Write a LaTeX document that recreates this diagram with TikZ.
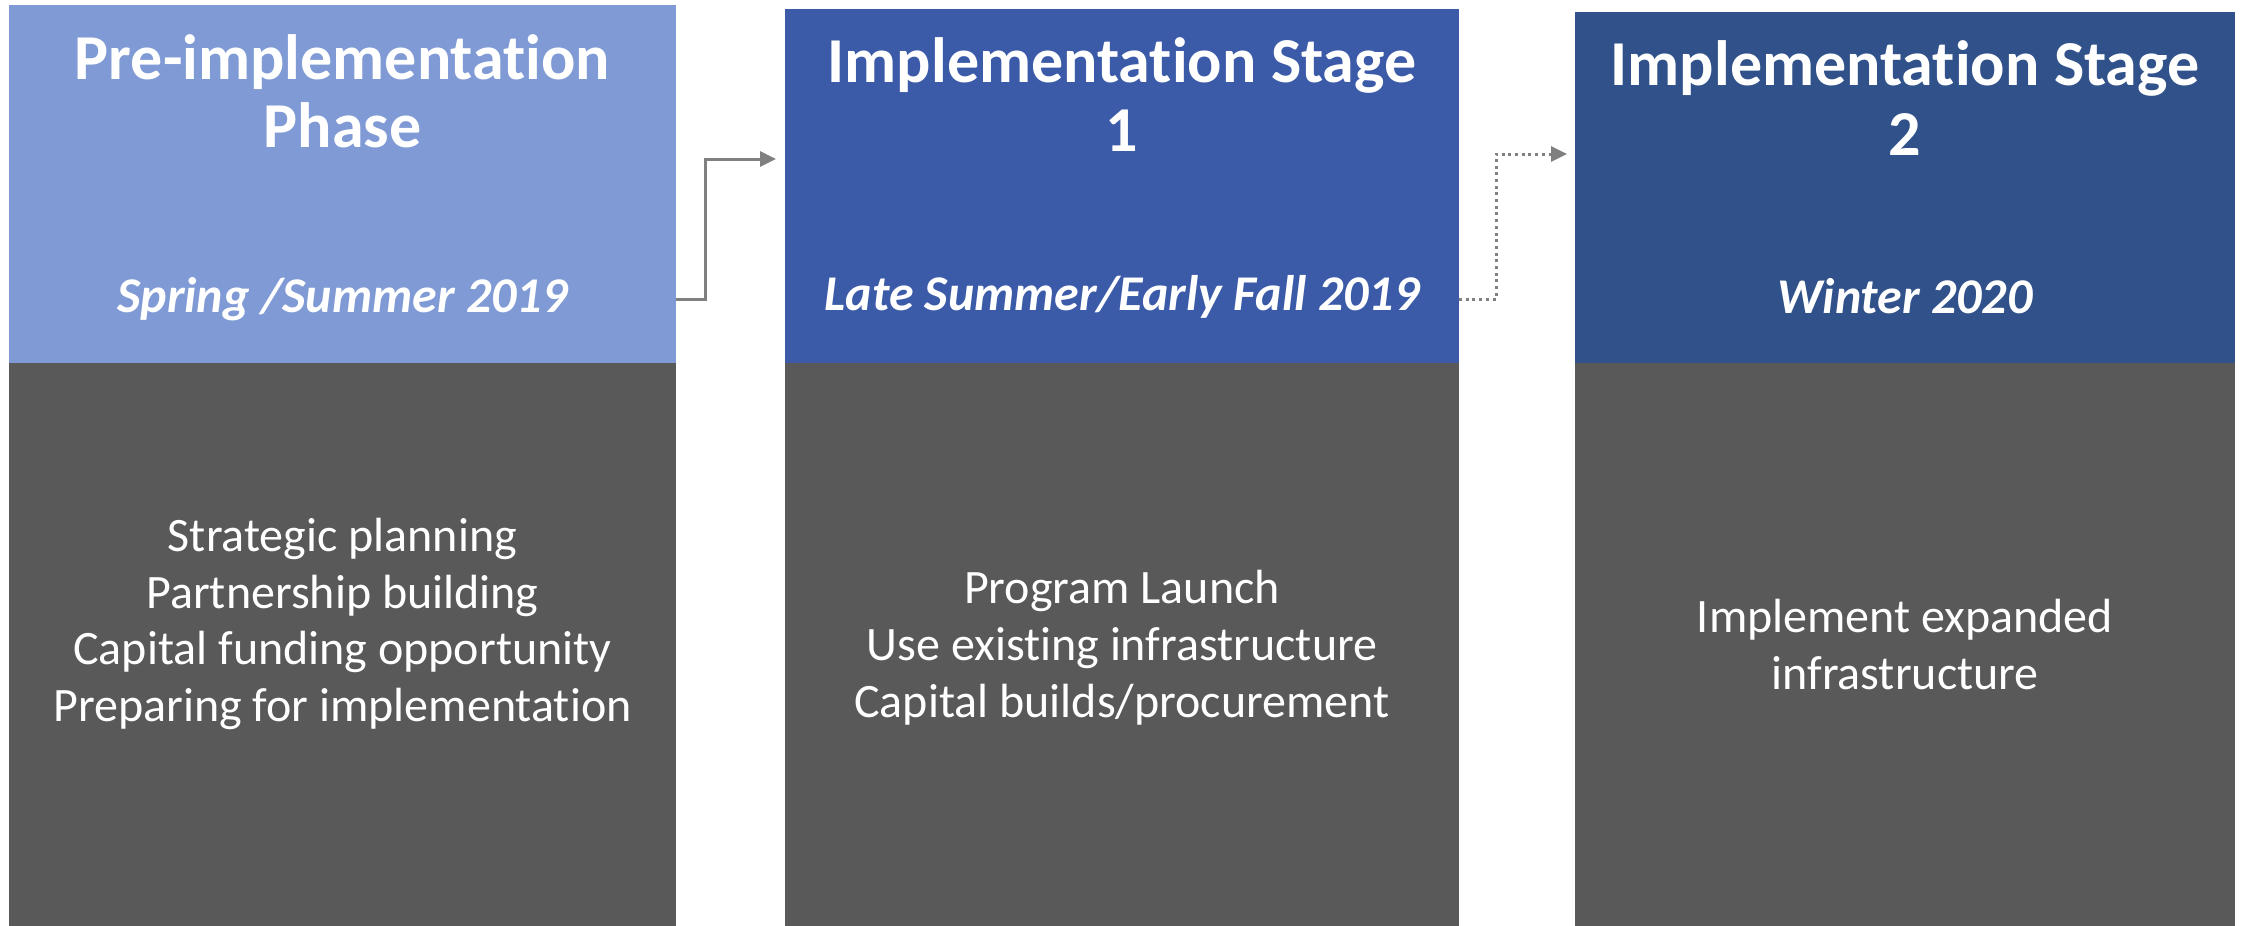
\documentclass[tikz,border=0pt]{standalone}
\usepackage{fontspec}
\setmainfont{Carlito}[Ligatures={NoCommon}]
\usetikzlibrary{arrows.meta}
\definecolor{hdrA}{HTML}{7F9AD4}
\definecolor{hdrB}{HTML}{3B5BA9}
\definecolor{hdrC}{HTML}{305189}
\definecolor{bodyg}{HTML}{595959}
\definecolor{conng}{HTML}{808080}
\begin{document}
\begin{tikzpicture}[x=1pt,y=-1pt,
  panel/.style={draw=none, inner sep=0pt, outer sep=0pt, anchor=north west},
  ttl/.style={text=white, font=\bfseries\fontsize{64}{70}\selectfont, anchor=base, inner sep=0pt},
  dte/.style={text=white, font=\bfseries\itshape\fontsize{50}{60}\selectfont, anchor=base, inner sep=0pt},
  bdy/.style={text=white, font=\fontsize{48}{57}\selectfont, anchor=base, inner sep=0pt},
  conn/.style={draw=conng, line width=3pt, -{Triangle[length=16pt,width=15pt]}}]
\useasboundingbox (0,0) rectangle (2241,926);
% panels
\node[panel, fill=hdrA, minimum width=667pt, minimum height=358pt] (h1) at (9,5) {};
\node[panel, fill=bodyg, minimum width=667pt, minimum height=563pt] (b1) at (9,363) {};
\node[panel, fill=hdrB, minimum width=674pt, minimum height=354pt] (h2) at (785,9) {};
\node[panel, fill=bodyg, minimum width=674pt, minimum height=563pt] (b2) at (785,363) {};
\node[panel, fill=hdrC, minimum width=660pt, minimum height=351pt] (h3) at (1575,12) {};
\node[panel, fill=bodyg, minimum width=660pt, minimum height=563pt] (b3) at (1575,363) {};
% header texts
\node[ttl] (t1a) at (342.5,79) {Pre-implementation};
\node[ttl] (t1b) at (342.5,147) {Phase};
\node[dte] (d1) at (342.5,312) {Spring /Summer 2019};
\node[ttl] (t2a) at (1122,82) {Implementation Stage};
\node[ttl] (t2b) at (1122,151) {1};
\node[dte] (d2) at (1122,310) {Late Summer/Early Fall 2019};
\node[ttl] (t3a) at (1905,85) {Implementation Stage};
\node[ttl] (t3b) at (1905,155) {2};
\node[dte] (d3) at (1905,313) {Winter 2020};
% body texts
\node[bdy] (s1a) at (342.5,551) {Strategic planning};
\node[bdy] (s1b) at (342.5,608) {Partnership building};
\node[bdy] (s1c) at (342.5,664) {Capital funding opportunity};
\node[bdy] (s1d) at (342.5,721) {Preparing for implementation};
\node[bdy] (s2a) at (1122,603) {Program Launch};
\node[bdy] (s2b) at (1122,660) {Use existing infrastructure};
\node[bdy] (s2c) at (1122,717) {Capital builds/procurement};
\node[bdy] (s3a) at (1905,632) {Implement expanded};
\node[bdy] (s3b) at (1905,689) {infrastructure};
% connectors
\draw[conn] (h1.east |- 0,299) -- ++(29,0) |- ([xshift=-9pt]h2.west |- 0,159);
\draw[conn, dash pattern=on 3pt off 3.7pt] (h2.east |- 0,299) -- ++(37,0) |- ([xshift=-8pt]h3.west |- 0,154);
\end{tikzpicture}
\end{document}
